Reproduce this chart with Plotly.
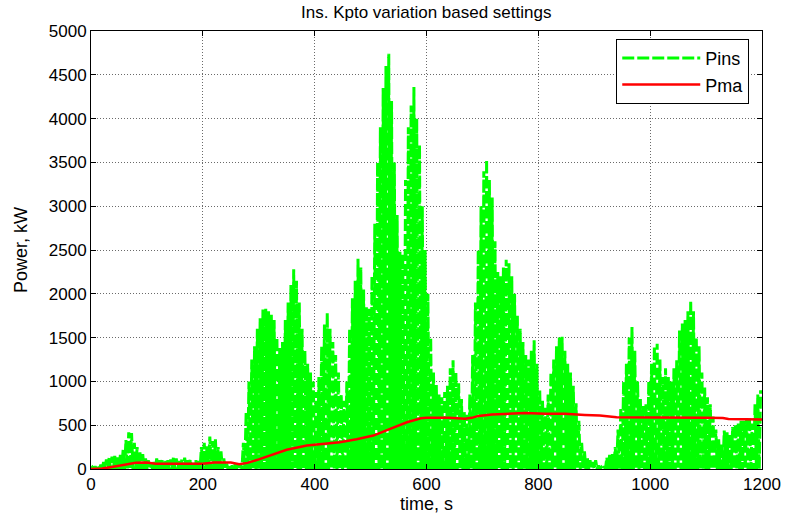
import numpy as np
import plotly.graph_objects as go

# ---- data ----
# Pins: oscillating instantaneous power; one peak every 5 s (peaks at 2.5, 7.5, ... s), troughs ~0
pins_peak_times = np.arange(2.5, 1200, 5.0)
pins_peaks_000_300 = [20, 30, 40, 50, 80, 110, 130, 140, 150, 140,
                      160, 220, 330, 420, 410, 300, 250, 190, 170, 120,
                      100, 60, 80, 120, 100, 110, 90, 100, 110, 140,
                      120, 90, 110, 130, 100, 110, 80, 100, 90, 250,
                      300, 260, 370, 320, 340, 250, 200, 120, 60, 50,
                      40, 60, 40, 50, 300, 650, 1000, 1250, 1400, 1600]
pins_peaks_300_600 = [1720, 1820, 1830, 1800, 1760, 1700, 1500, 1380, 1450, 1700,
                      1900, 2100, 2280, 2150, 1900, 1600, 1350, 1200, 1100, 1000,
                      880, 1050, 1400, 1650, 1780, 1600, 1450, 1300, 1100, 850,
                      780, 1000, 1600, 1950, 2150, 2400, 2300, 2050, 1850, 1830,
                      2200, 2800, 3500, 3900, 4350, 4600, 4740, 4200, 3500, 2900,
                      2480, 2450, 3300, 3900, 4150, 4360, 4000, 3700, 3000, 2500]
pins_peaks_600_900 = [2000, 1500, 1100, 960, 850, 820, 880, 950, 1150, 1240,
                      1100, 980, 800, 650, 620, 850, 1300, 1900, 2500, 3000,
                      3400, 3530, 3300, 3100, 2600, 2250, 2200, 2300, 2390, 2350,
                      2200, 2000, 1750, 1600, 1450, 1300, 1250, 1350, 1470, 1200,
                      900, 780, 700, 850, 1100, 1250, 1400, 1500, 1510, 1350,
                      1200, 1100, 950, 750, 550, 300, 200, 130, 100, 80]
pins_peaks_900_1200 = [100, 40, 20, 30, 130, 160, 170, 250, 450, 700,
                       1000, 1200, 1500, 1620, 1350, 1000, 800, 720, 740, 1000,
                       1200, 1400, 1430, 1250, 1050, 1150, 1050, 1000, 1150, 1240,
                       1580, 1660, 1700, 1800, 1920, 1800, 1500, 1400, 1100, 930,
                       820, 740, 600, 450, 340, 290, 440, 420, 400, 480,
                       510, 530, 550, 550, 560, 590, 520, 740, 850, 900]
pins_trough = 0

# Pma: moving-average power
pma_t = [0, 20, 40, 60, 80, 100, 115, 150, 200, 220, 250, 265, 280, 300, 326, 350,
         386, 420, 445, 475, 505, 535, 565, 590, 600, 640, 669, 681, 693, 717, 753,
         776, 812, 848, 883, 910, 940, 1000, 1100, 1130, 1140, 1200]
pma_v = [0, 5, 25, 45, 70, 75, 60, 60, 60, 75, 75, 55, 70, 110, 170, 220,
         268, 290, 306, 340, 382, 459, 534, 580, 585, 584, 573, 584, 606, 621, 636,
         640, 632, 630, 617, 610, 590, 585, 585, 583, 570, 565]

x_ticks = [0, 200, 400, 600, 800, 1000, 1200]
y_ticks = [0, 500, 1000, 1500, 2000, 2500, 3000, 3500, 4000, 4500, 5000]

# ---- build oscillating series ----
pins_peaks = pins_peaks_000_300 + pins_peaks_300_600 + pins_peaks_600_900 + pins_peaks_900_1200
px, py = [], []
for t, p in zip(pins_peak_times, pins_peaks):
    px += [t - 2.5, t]
    py += [pins_trough, p]

FONT = "Liberation Sans, Arial, sans-serif"

fig = go.Figure()
fig.add_trace(go.Scatter(x=px, y=py, mode="lines", name="Pins",
                         line=dict(color="#00ff00", width=3, dash="12px,3px", simplify=False)))
fig.add_trace(go.Scatter(x=pma_t, y=pma_v, mode="lines", name="Pma",
                         line=dict(color="#ff0000", width=2.5)))

axis_common = dict(showline=True, linecolor="black", linewidth=1, mirror="ticks",
                   ticks="inside", ticklen=5, tickcolor="black", automargin=False,
                   showgrid=True, gridcolor="#6a6a6a", griddash="1px,2px", gridwidth=1,
                   zeroline=False, tickfont=dict(family=FONT, size=17, color="black"))

fig.update_layout(
    width=785, height=517,
    margin=dict(l=91, r=23, t=31, b=48),
    paper_bgcolor="white", plot_bgcolor="white",
    title=dict(text="Ins. Kpto variation based settings", x=0.543, xanchor="center",
               y=1 - 12 / 517, yanchor="middle", font=dict(family=FONT, size=17, color="black")),
    xaxis=dict(range=[0, 1200], tickvals=x_ticks, **axis_common,
               title=dict(text="time, s", font=dict(family=FONT, size=18, color="black"), standoff=2)),
    yaxis=dict(range=[0, 5000], tickvals=y_ticks, **axis_common,
               title=dict(text="Power, kW", font=dict(family=FONT, size=18, color="black"), standoff=16)),
    showlegend=True,
    legend=dict(x=0.981, xanchor="right", y=0.982, yanchor="top",
                bgcolor="white", bordercolor="black", borderwidth=1, tracegroupgap=0,
                font=dict(family=FONT, size=18, color="black"), itemwidth=78),
)

fig.write_html("out.html")
